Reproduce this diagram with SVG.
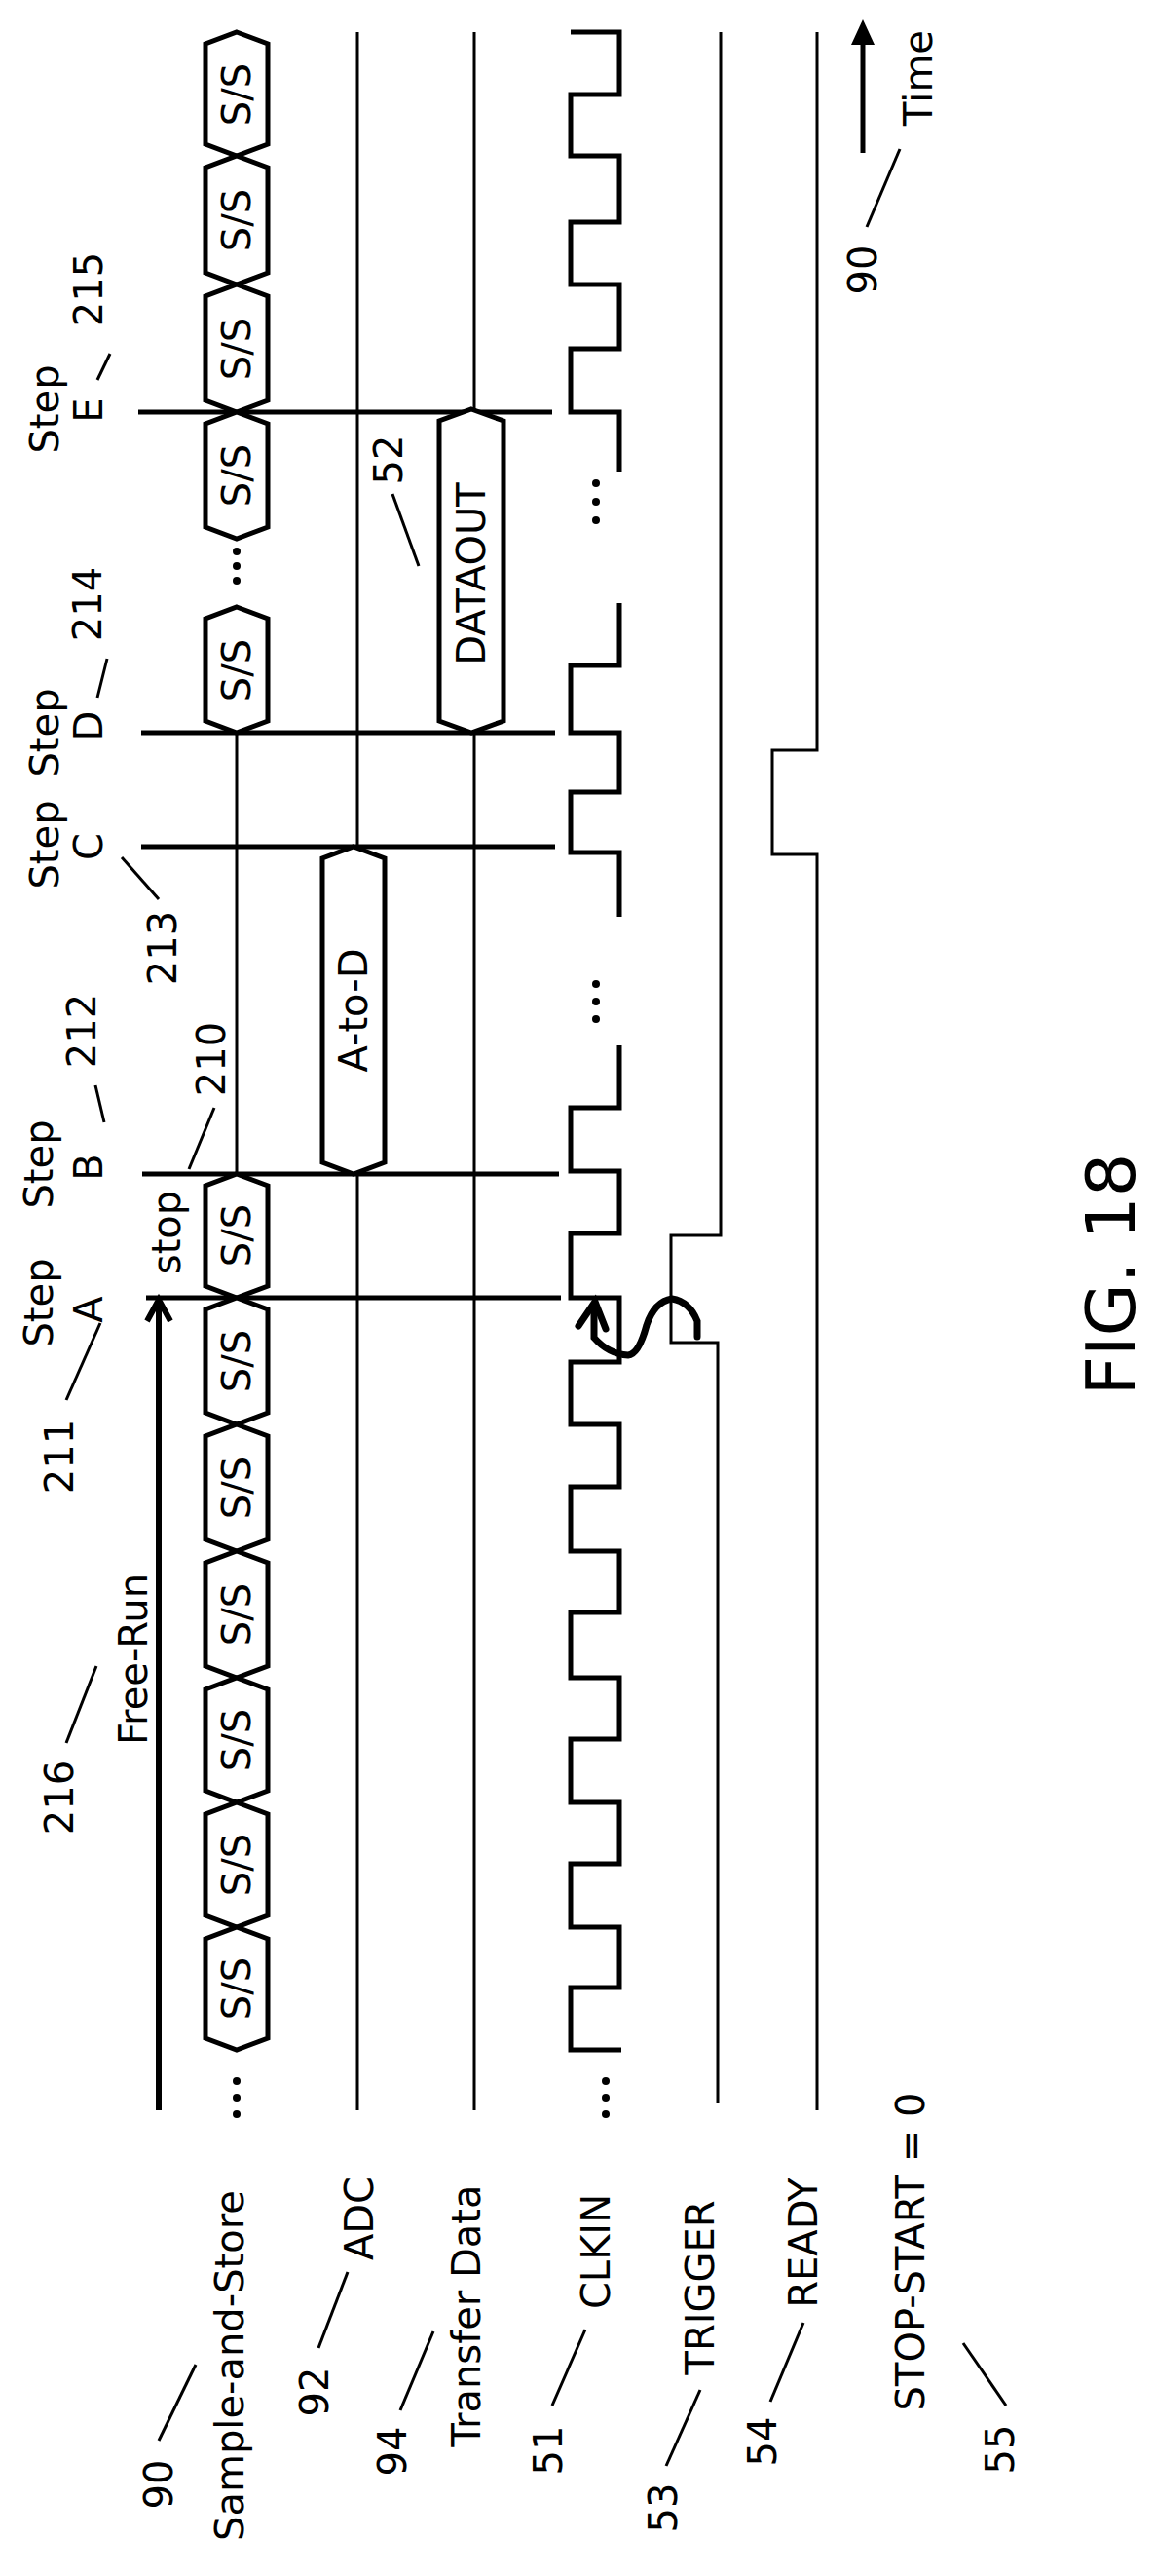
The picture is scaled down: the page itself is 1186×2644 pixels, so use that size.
<svg xmlns="http://www.w3.org/2000/svg" width="1186" height="2644" viewBox="0 0 1186 2644">
<style>
.t{font-family:"DejaVu Sans","Liberation Sans",sans-serif;font-size:40px;fill:#000;text-anchor:middle;dominant-baseline:central}
.k{fill:none;stroke:#000;stroke-width:5}
.n{fill:none;stroke:#000;stroke-width:3}
.hx{fill:#fff;stroke:#000;stroke-width:5;stroke-linejoin:miter}
</style>
<rect width="1186" height="2644" fill="#fff"/>
<g id="connectors">
<!-- step lines -->
<line class="k" x1="142" y1="423" x2="567" y2="423"/>
<line class="k" x1="145" y1="752" x2="570" y2="752"/>
<line class="k" x1="145" y1="869" x2="570" y2="869"/>
<line class="k" x1="146" y1="1205" x2="574" y2="1205"/>
<line class="k" x1="150" y1="1332" x2="576" y2="1332"/>
<!-- lanes -->
<line class="n" x1="243" y1="752" x2="243" y2="1205"/>
<line class="n" x1="367" y1="33" x2="367" y2="869"/>
<line class="n" x1="367" y1="1205" x2="367" y2="2166"/>
<line class="n" x1="487" y1="33" x2="487" y2="420"/>
<line class="n" x1="487" y1="752" x2="487" y2="2166"/>
<path class="k" d="M586,33 L636,33 L636,97 L586,97 L586,160 L636,160 L636,228 L586,228 L586,292 L636,292 L636,358 L586,358 L586,423 L636,423 L636,484"/>
<path class="k" d="M636,619 L636,683 L586,683 L586,752 L636,752 L636,813 L586,813 L586,875 L636,875 L636,941"/>
<path class="k" d="M636,1073 L636,1137 L586,1137 L586,1202 L636,1202 L636,1266 L586,1266 L586,1332 L636,1332 L636,1398 L586,1398 L586,1462 L636,1462 L636,1526 L586,1526 L586,1592 L636,1592 L636,1655 L586,1655 L586,1722 L636,1722 L636,1785 L586,1785 L586,1850 L636,1850 L636,1913 L586,1913 L586,1978 L636,1978 L636,2040 L586,2040 L586,2104 L638,2104"/>
<path class="n" d="M740,33 L740,1268 L689,1268 L689,1378 L737,1378 L737,2159"/>
<path class="n" d="M839,33 L839,770 L793,770 L793,877 L839,877 L839,2166"/>
<!-- free run arrow -->
<line x1="163" y1="2166" x2="163" y2="1338" stroke="#000" stroke-width="6"/>
<polyline points="151,1356 163,1334 175,1356" fill="none" stroke="#000" stroke-width="6"/>
<!-- time arrow -->
<line x1="886" y1="157" x2="886" y2="40" stroke="#000" stroke-width="5"/>
<polygon points="886,20 874,46 898,46" fill="#000"/>
<!-- trigger to clock arrow -->
<path d="M716,1372 L716,1356 Q708,1336 690,1333 Q672,1336 664,1360 Q656,1390 645,1391 Q625,1390 610,1373 L610,1340" fill="none" stroke="#000" stroke-width="7" stroke-linecap="round"/>
<polyline points="594,1361 611,1336 622,1364" fill="none" stroke="#000" stroke-width="7" stroke-linecap="round"/>
<!-- leaders -->
<g class="n">
<line x1="890" y1="233" x2="924" y2="153"/>
<line x1="113" y1="363" x2="100" y2="390"/>
<line x1="110" y1="676" x2="100" y2="716"/>
<line x1="125" y1="880" x2="163" y2="923"/>
<line x1="98" y1="1114" x2="107" y2="1152"/>
<line x1="220" y1="1137" x2="194" y2="1200"/>
<line x1="403" y1="507" x2="430" y2="581"/>
<line x1="103" y1="1358" x2="68" y2="1437"/>
<line x1="99" y1="1710" x2="68" y2="1789"/>
<line x1="163" y1="2505" x2="201" y2="2427"/>
<line x1="327" y1="2410" x2="357" y2="2332"/>
<line x1="411" y1="2474" x2="445" y2="2393"/>
<line x1="567" y1="2469" x2="601" y2="2391"/>
<line x1="684" y1="2531" x2="719" y2="2453"/>
<line x1="791" y1="2465" x2="825" y2="2384"/>
<line x1="989" y1="2405" x2="1033" y2="2469"/>
</g>
<!-- dots -->
<g fill="#000">
<circle cx="243" cy="566" r="4"/><circle cx="243" cy="581" r="4"/><circle cx="243" cy="596" r="4"/>
<circle cx="243" cy="2136" r="4"/><circle cx="243" cy="2153" r="4"/><circle cx="243" cy="2170" r="4"/>
<circle cx="612" cy="496" r="4"/><circle cx="612" cy="515" r="4"/><circle cx="612" cy="534" r="4"/>
<circle cx="612" cy="1010" r="4"/><circle cx="612" cy="1028" r="4"/><circle cx="612" cy="1046" r="4"/>
<circle cx="622" cy="2136" r="4"/><circle cx="622" cy="2153" r="4"/><circle cx="622" cy="2170" r="4"/>
</g>
</g>
<g id="ss-hexes">
<path class="hx" d="M243,33 L275,45 L275,148 L243,160 L211,148 L211,45 Z"/>
<path class="hx" d="M243,160 L275,172 L275,280 L243,292 L211,280 L211,172 Z"/>
<path class="hx" d="M243,292 L275,304 L275,411 L243,423 L211,411 L211,304 Z"/>
<path class="hx" d="M243,423 L275,435 L275,541 L243,553 L211,541 L211,435 Z"/>
<path class="hx" d="M243,623 L275,635 L275,740 L243,752 L211,740 L211,635 Z"/>
<path class="hx" d="M243,1205 L275,1217 L275,1320 L243,1332 L211,1320 L211,1217 Z"/>
<path class="hx" d="M243,1332 L275,1344 L275,1450 L243,1462 L211,1450 L211,1344 Z"/>
<path class="hx" d="M243,1462 L275,1474 L275,1580 L243,1592 L211,1580 L211,1474 Z"/>
<path class="hx" d="M243,1592 L275,1604 L275,1710 L243,1722 L211,1710 L211,1604 Z"/>
<path class="hx" d="M243,1722 L275,1734 L275,1838 L243,1850 L211,1838 L211,1734 Z"/>
<path class="hx" d="M243,1850 L275,1862 L275,1966 L243,1978 L211,1966 L211,1862 Z"/>
<path class="hx" d="M243,1978 L275,1990 L275,2092 L243,2104 L211,2092 L211,1990 Z"/>
<g class="t">
<text transform="translate(243,97) rotate(-90)">S/S</text>
<text transform="translate(243,226) rotate(-90)">S/S</text>
<text transform="translate(243,358) rotate(-90)">S/S</text>
<text transform="translate(243,488) rotate(-90)">S/S</text>
<text transform="translate(243,688) rotate(-90)">S/S</text>
<text transform="translate(243,1268) rotate(-90)">S/S</text>
<text transform="translate(243,1397) rotate(-90)">S/S</text>
<text transform="translate(243,1527) rotate(-90)">S/S</text>
<text transform="translate(243,1657) rotate(-90)">S/S</text>
<text transform="translate(243,1786) rotate(-90)">S/S</text>
<text transform="translate(243,1914) rotate(-90)">S/S</text>
<text transform="translate(243,2041) rotate(-90)">S/S</text>
</g>
</g>
<g id="adc-hex">
<path class="hx" d="M363,869 L395,881 L395,1193 L363,1205 L331,1193 L331,881 Z"/>
<text class="t" transform="translate(363,1037) rotate(-90)">A-to-D</text>
</g>
<g id="dataout-hex">
<path class="hx" d="M484,420 L517,432 L517,740 L484,752 L451,740 L451,432 Z"/>
<text class="t" transform="translate(484,589) rotate(-90)">DATAOUT</text>
</g>
<g id="labels" class="t">
<text transform="translate(943,80) rotate(-90)">Time</text>
<text transform="translate(886,277) rotate(-90)">90</text>
<text transform="translate(46,420) rotate(-90)">Step</text>
<text transform="translate(91,421) rotate(-90)">E</text>
<text transform="translate(91,297) rotate(-90)">215</text>
<text transform="translate(46,752) rotate(-90)">Step</text>
<text transform="translate(91,745) rotate(-90)">D</text>
<text transform="translate(90,620) rotate(-90)">214</text>
<text transform="translate(46,867) rotate(-90)">Step</text>
<text transform="translate(91,869) rotate(-90)">C</text>
<text transform="translate(167,973) rotate(-90)">213</text>
<text transform="translate(40,1195) rotate(-90)">Step</text>
<text transform="translate(91,1198) rotate(-90)">B</text>
<text transform="translate(84,1058) rotate(-90)">212</text>
<text transform="translate(217,1087) rotate(-90)">210</text>
<text transform="translate(171,1265) rotate(-90)">stop</text>
<text transform="translate(40,1337) rotate(-90)">Step</text>
<text transform="translate(91,1344) rotate(-90)">A</text>
<text transform="translate(61,1495) rotate(-90)">211</text>
<text transform="translate(137,1703) rotate(-90)">Free-Run</text>
<text transform="translate(61,1845) rotate(-90)">216</text>
<text transform="translate(399,472) rotate(-90)">52</text>
<text transform="translate(163,2550) rotate(-90)">90</text>
<text transform="translate(236,2428) rotate(-90)">Sample-and-Store</text>
<text transform="translate(323,2455) rotate(-90)">92</text>
<text transform="translate(369,2277) rotate(-90)">ADC</text>
<text transform="translate(403,2516) rotate(-90)">94</text>
<text transform="translate(479,2377) rotate(-90)">Transfer Data</text>
<text transform="translate(563,2515) rotate(-90)">51</text>
<text transform="translate(612,2311) rotate(-90)">CLKIN</text>
<text transform="translate(681,2574) rotate(-90)">53</text>
<text transform="translate(719,2348) rotate(-90)">TRIGGER</text>
<text transform="translate(783,2506) rotate(-90)">54</text>
<text transform="translate(825,2302) rotate(-90)">READY</text>
<text transform="translate(935,2311) rotate(-90)">STOP-START = 0</text>
<text transform="translate(1027,2514) rotate(-90)">55</text>
<text transform="translate(1141,1308) rotate(-90)" style="font-size:70px">FIG. 18</text>
</g>
</svg>
